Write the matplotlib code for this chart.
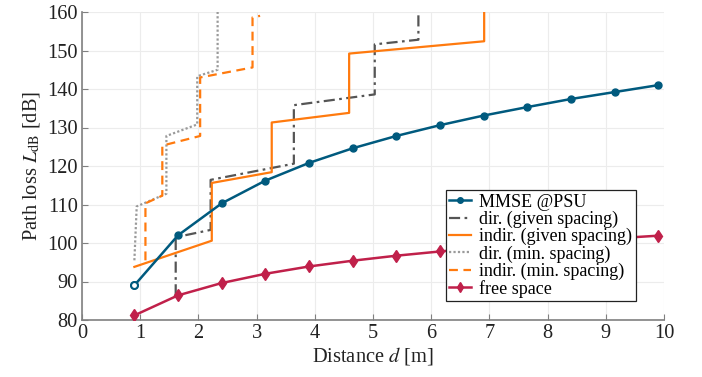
import matplotlib
matplotlib.use("Agg")
import matplotlib.pyplot as plt

plt.rcParams['font.family'] = ['Liberation Serif', 'DejaVu Serif']
plt.rcParams['mathtext.fontset'] = 'stix'

# MMSE @PSU
mmse_d = [0.9, 1.65, 2.4, 3.15, 3.9, 4.65, 5.4, 6.15, 6.9, 7.65, 8.4, 9.15, 9.9]
mmse_L = [89.0, 102.0, 110.3, 116.2, 120.8, 124.6, 127.8, 130.6, 133.1, 135.3, 137.4, 139.2, 141.0]

# free space
fs_d = [0.9, 1.65, 2.4, 3.15, 3.9, 4.65, 5.4, 6.15, 6.9, 7.65, 8.4, 9.15, 9.9]
fs_L = [81.2, 86.4, 89.6, 92.0, 93.9, 95.4, 96.7, 97.8, 98.8, 99.7, 100.5, 101.2, 101.9]

# dir. (given spacing)
dg_d = [1.61, 1.61, 2.21, 2.21, 3.64, 3.64, 5.03, 5.03, 5.78, 5.78]
dg_L = [86.4, 101.5, 103.4, 116.4, 120.6, 135.8, 138.6, 151.6, 152.8, 162.0]

# indir. (given spacing)
ig_d = [0.9, 2.23, 2.23, 3.26, 3.26, 4.59, 4.59, 6.91, 6.91]
ig_L = [93.8, 100.6, 115.6, 118.4, 131.3, 133.8, 149.2, 152.4, 162.0]

# dir. (min. spacing)
dm_d = [0.9, 0.94, 1.45, 1.45, 1.98, 1.98, 2.33, 2.33]
dm_L = [95.5, 109.5, 112.8, 127.8, 130.8, 143.3, 145.0, 162.0]

# indir. (min. spacing)
im_d = [1.09, 1.09, 1.38, 1.38, 2.03, 2.03, 2.93, 2.93, 3.06]
im_L = [95.5, 110.3, 112.3, 125.3, 127.8, 143.0, 145.6, 158.6, 159.0]

blue = '#005a7e'
orange = '#ff7a0e'
dgray = '#555555'
lgray = '#9a9a9a'
red = '#c0204a'

fig = plt.figure(figsize=(7.02, 3.77), dpi=100)
ax = fig.add_axes([82/702, 57/377, 582/702, 308/377])

ax.plot(mmse_d, mmse_L, color=blue, lw=1.8, marker='o', ms=5, label='MMSE @PSU', zorder=5)
ax.plot(mmse_d[:1], mmse_L[:1], color=blue, lw=0, marker='o', ms=5, mfc='white', mew=1.5, zorder=6)
ax.plot(dg_d, dg_L, color=dgray, lw=1.6, ls=(0, (5, 2, 1.2, 2)), label='dir. (given spacing)', zorder=3)
ax.plot(ig_d, ig_L, color=orange, lw=1.6, ls='-', label='indir. (given spacing)', zorder=4)
ax.plot(dm_d, dm_L, color=lgray, lw=1.6, ls=(0, (1, 1)), label='dir. (min. spacing)', zorder=3)
ax.plot(im_d, im_L, color=orange, lw=1.6, ls=(0, (4, 2.5)), label='indir. (min. spacing)', zorder=4)
ax.plot(fs_d, fs_L, color=red, lw=1.8, marker='d', ms=6, label='free space', zorder=5)

ax.set_xlim(0, 10)
ax.set_ylim(80, 160)
ax.set_xticks(range(0, 11))
ax.set_yticks(range(80, 161, 10))
ax.grid(True, color='#ececec', lw=0.8)
ax.set_axisbelow(True)
for s in ['top', 'right']:
    ax.spines[s].set_visible(False)
for s in ['left', 'bottom']:
    ax.spines[s].set_color('#808080')
    ax.spines[s].set_linewidth(1.2)
ax.tick_params(direction='in', colors='#808080', labelcolor='#222222', labelsize=14.7, length=4, pad=3)

ax.set_xlabel(r'Distance $d$ [m]', fontsize=14.7, labelpad=1, color='#222222')
ax.set_ylabel(r'Path loss $L_{\mathrm{dB}}$ [dB]', fontsize=14.7, labelpad=4, color='#222222')

leg = ax.legend(loc='upper left', bbox_to_anchor=(0.625, 0.422), borderaxespad=0,
                fontsize=13, frameon=True, fancybox=False, edgecolor='#222222',
                handlelength=1.2, handletextpad=0.45, labelspacing=0.0,
                borderpad=0.2, markerscale=0.8, framealpha=1)
leg.get_frame().set_linewidth(0.9)
leg.set_zorder(10)

fig.savefig('out.png', dpi=100)
